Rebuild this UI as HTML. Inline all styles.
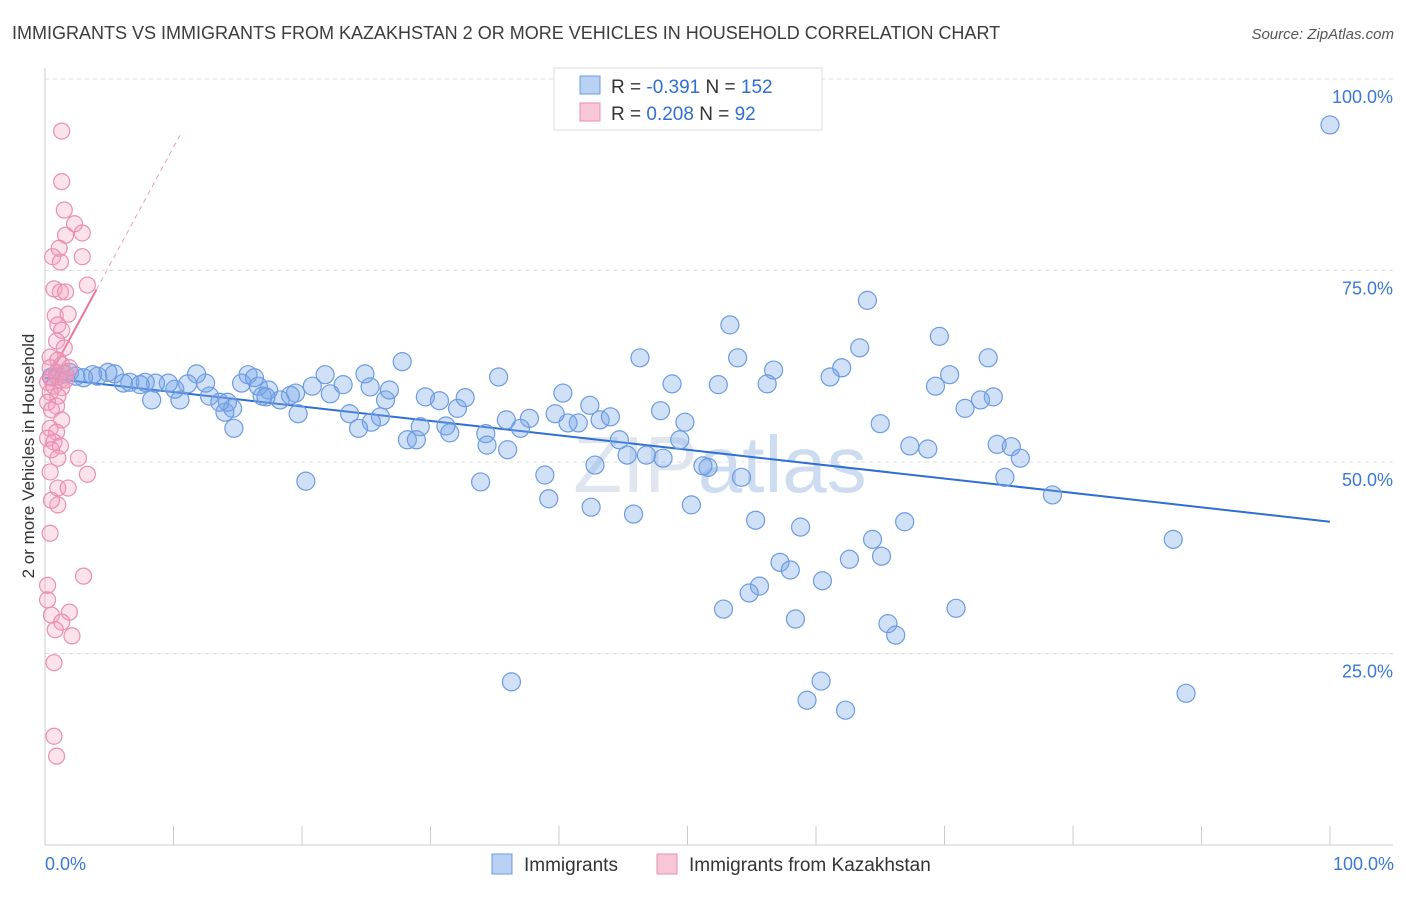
<!DOCTYPE html>
<html><head><meta charset="utf-8">
<style>
body{margin:0;background:#fff;font-family:"Liberation Sans",sans-serif;}
svg text{font-family:"Liberation Sans",sans-serif;}
</style></head>
<body>
<svg id="chart" width="1406" height="892" xmlns="http://www.w3.org/2000/svg">
<text x="12" y="39" font-size="18" fill="#3c3c3c">IMMIGRANTS VS IMMIGRANTS FROM KAZAKHSTAN 2 OR MORE VEHICLES IN HOUSEHOLD CORRELATION CHART</text>
<text x="1394" y="39" font-size="15" fill="#555" font-style="italic" text-anchor="end">Source: ZipAtlas.com</text>
<text x="720" y="492" font-size="80" fill="#dfe6ef" text-anchor="middle" font-family="Liberation Serif">ZIP<tspan font-family="Liberation Sans" fill="#cddcf0">atlas</tspan></text>
<g id="grid"></g>
<g id="axes"></g>
<g id="trend"></g>
<g id="pts"></g>
<text transform="translate(34,456) rotate(-90)" font-size="17" fill="#333" text-anchor="middle">2 or more Vehicles in Household</text>
<text x="45" y="870" font-size="18" fill="#3a78d4">0.0%</text>
<text x="1394" y="870" font-size="18" fill="#3a78d4" text-anchor="end">100.0%</text>
<g>
<rect x="554" y="68" width="268" height="62" fill="#fff" stroke="#ddd"/>
<rect x="580" y="76" width="20" height="18" fill="#b9d1f3" stroke="#6d9be0"/>
<rect x="580" y="103" width="20" height="18" fill="#f9c6d6" stroke="#e98fb0"/>
<text x="611" y="93" font-size="19" fill="#333">R = <tspan fill="#2f6fd1">-0.391</tspan>   N = <tspan fill="#2f6fd1">152</tspan></text>
<text x="611" y="120" font-size="19" fill="#333">R =  <tspan fill="#2f6fd1">0.208</tspan>   N =   <tspan fill="#2f6fd1">92</tspan></text>
</g>
<g>
<rect x="492" y="854" width="20" height="20" fill="#b9d1f3" stroke="#6d9be0"/>
<text x="524" y="871" font-size="19" fill="#333">Immigrants</text>
<rect x="657" y="854" width="20" height="20" fill="#f9c6d6" stroke="#e98fb0"/>
<text x="689" y="871" font-size="19" fill="#333">Immigrants from Kazakhstan</text>
</g>
</svg>
<script>
const yTicks=[25,50,75,100];
const yTickLabels=["25.0%","50.0%","75.0%","100.0%"];
const xTicks=[0,10,20,30,40,50,60,70,80,90,100];
const blueX=[100,64.0,53.3,69.6,73.4,63.4,53.9,27.8,46.3,56.7,62.0,61.1,70.4,35.3,48.8,52.4,56.2,69.3,73.8,72.8,71.6,40.3,42.4,47.9,49.8,65.0,67.3,68.7,74.1,75.2,75.9,74.7,78.4,87.8,54.2,51.6,51.2,49.4,46.8,45.3,48.1,44.7,43.2,44.0,41.5,40.7,39.7,37.7,37.0,35.9,34.3,34.4,36.0,33.9,38.9,39.2,42.8,42.5,45.8,50.3,55.3,58.8,64.4,66.9,62.6,65.1,57.2,58.0,60.5,55.6,54.8,52.8,58.4,70.9,65.6,66.2,60.4,59.3,62.3,88.8,36.3,20.3,32.1,30.7,29.6,32.7,31.2,31.5,29.2,28.2,28.9,26.1,25.4,23.7,24.4,26.5,26.8,24.9,25.3,22.2,23.2,21.8,20.8,19.5,19.1,18.3,19.7,17.4,16.9,15.8,15.3,16.3,16.6,17.2,14.6,14.0,14.7,14.2,13.6,12.8,12.5,11.8,11.1,10.5,10.1,9.6,8.3,8.6,7.8,6.6,6.1,5.4,4.9,4.1,3.7,3.0,1.9,1.5,1.0,0.5,2.4,7.4];
const blueY=[94.0,71.1,67.9,66.4,63.6,64.9,63.6,63.1,63.6,62.0,62.3,61.1,61.4,61.1,60.2,60.1,60.2,59.9,58.5,58.1,57.0,59.0,57.4,56.7,55.2,55.0,52.1,51.7,52.3,52.0,50.5,48.0,45.7,39.9,48.0,49.3,49.5,52.9,50.9,50.9,50.5,52.9,55.5,55.9,55.1,55.1,56.3,55.7,54.4,55.5,53.7,52.2,51.6,47.4,48.3,45.2,49.6,44.1,43.2,44.4,42.4,41.5,39.9,42.2,37.3,37.7,36.9,35.9,34.5,33.8,32.9,30.8,29.5,30.9,28.9,27.4,21.4,18.9,17.6,19.8,21.3,47.5,57.0,58.0,58.5,58.4,54.7,53.8,54.6,52.9,52.9,55.9,55.2,56.3,54.4,58.1,59.4,61.5,59.8,58.9,60.1,61.4,59.9,59.0,58.7,58.1,56.3,59.4,58.6,61.4,60.3,61.0,59.9,58.5,57.0,56.5,54.4,57.8,57.8,58.6,60.3,61.5,60.2,58.1,59.5,60.3,58.1,60.3,60.4,60.4,60.3,61.5,61.7,61.2,61.4,61.0,61.7,61.5,61.2,61.1,61.2,60.1];
const pinkX=[1.3,1.3,1.5,2.3,1.6,1.1,2.9,0.6,1.2,2.9,0.7,1.2,1.6,3.3,0.8,1.8,1.0,1.3,0.9,1.5,0.4,1.0,0.4,1.3,0.9,1.6,0.5,1.2,0.2,0.7,1.3,0.4,1.0,0.2,0.9,0.5,1.3,0.4,0.9,0.2,0.7,1.2,0.5,1.0,2.6,3.3,0.4,1.0,1.8,1.0,0.4,3.0,0.2,1.9,0.5,1.3,0.8,2.1,0.7,0.7,0.9,0.2,0.5,1.6,1.9];
const pinkY=[93.2,86.6,82.9,81.1,79.6,77.9,79.9,76.8,76.1,76.8,72.6,72.2,72.2,73.1,69.1,69.3,67.9,67.2,65.8,64.9,63.7,63.3,62.3,62.7,61.7,61.5,61.0,60.7,60.4,59.9,59.7,59.1,58.6,57.8,57.3,56.8,55.5,54.4,53.9,53.1,52.6,52.1,51.6,50.5,50.5,48.4,48.7,46.6,46.6,44.4,40.7,35.1,33.9,30.4,30.0,29.1,28.1,27.3,23.8,14.2,11.6,32.0,45.0,60.7,62.3];
const blueTrend=[61.0,42.2];
const pinkTrend=[60.1,3.1];
const NS="http://www.w3.org/2000/svg";
const X=v=>45+v*12.85, Y=v=>845-v*7.66;
function mk(tag,attrs,parent){const e=document.createElementNS(NS,tag);for(const k in attrs)e.setAttribute(k,attrs[k]);document.getElementById(parent).appendChild(e);return e;}
yTicks.forEach((t,i)=>{
 const g=mk('line',{x1:45,x2:1393,y1:Y(t),y2:Y(t),stroke:'#dcdcdc','stroke-dasharray':'4,4'},'grid');
 
 
 const l=mk('text',{x:1393,y:Y(t)+24,'font-size':18,fill:'#3a78d4','text-anchor':'end'},'grid');
 l.textContent=yTickLabels[i];
 
 
});
const ax=mk('line',{x1:45,x2:1393,y1:845,y2:845,stroke:'#ccc'},'axes');


const ay=mk('line',{x1:45,x2:45,y1:68,y2:845,stroke:'#ccc'},'axes');


xTicks.forEach(t=>{
 const e=mk('line',{x1:X(t),x2:X(t),y1:826,y2:845,stroke:'#ccc'},'axes');
 
 
});
blueX.forEach((x,i)=>{
 const c=mk('circle',{cx:X(x),cy:Y(blueY[i]),r:9,fill:'rgba(120,165,232,0.35)',stroke:'#6d9be0','stroke-width':1.2},'pts');
 
 
});
pinkX.forEach((x,i)=>{
 const c=mk('circle',{cx:X(x),cy:Y(pinkY[i]),r:8,fill:'rgba(244,160,188,0.3)',stroke:'#e98fb0','stroke-width':1.2},'pts');
 
 
});
const bt=mk('line',{x1:X(0),y1:Y(blueTrend[0]),x2:X(100),y2:Y(blueTrend[1]),stroke:'#2f6fd1','stroke-width':2},'trend');


const pt=mk('line',{x1:X(0),y1:Y(pinkTrend[0]),x2:X(4),y2:Y(pinkTrend[0]+pinkTrend[1]*4),stroke:'#e8779e','stroke-width':2},'trend');


const pd=mk('line',{x1:X(4),y1:Y(pinkTrend[0]+pinkTrend[1]*4),x2:X(10.5),y2:Y(pinkTrend[0]+pinkTrend[1]*10.5),stroke:'#e8a0b8','stroke-width':1,'stroke-dasharray':'5,4'},'trend');


</script>
</body></html>
